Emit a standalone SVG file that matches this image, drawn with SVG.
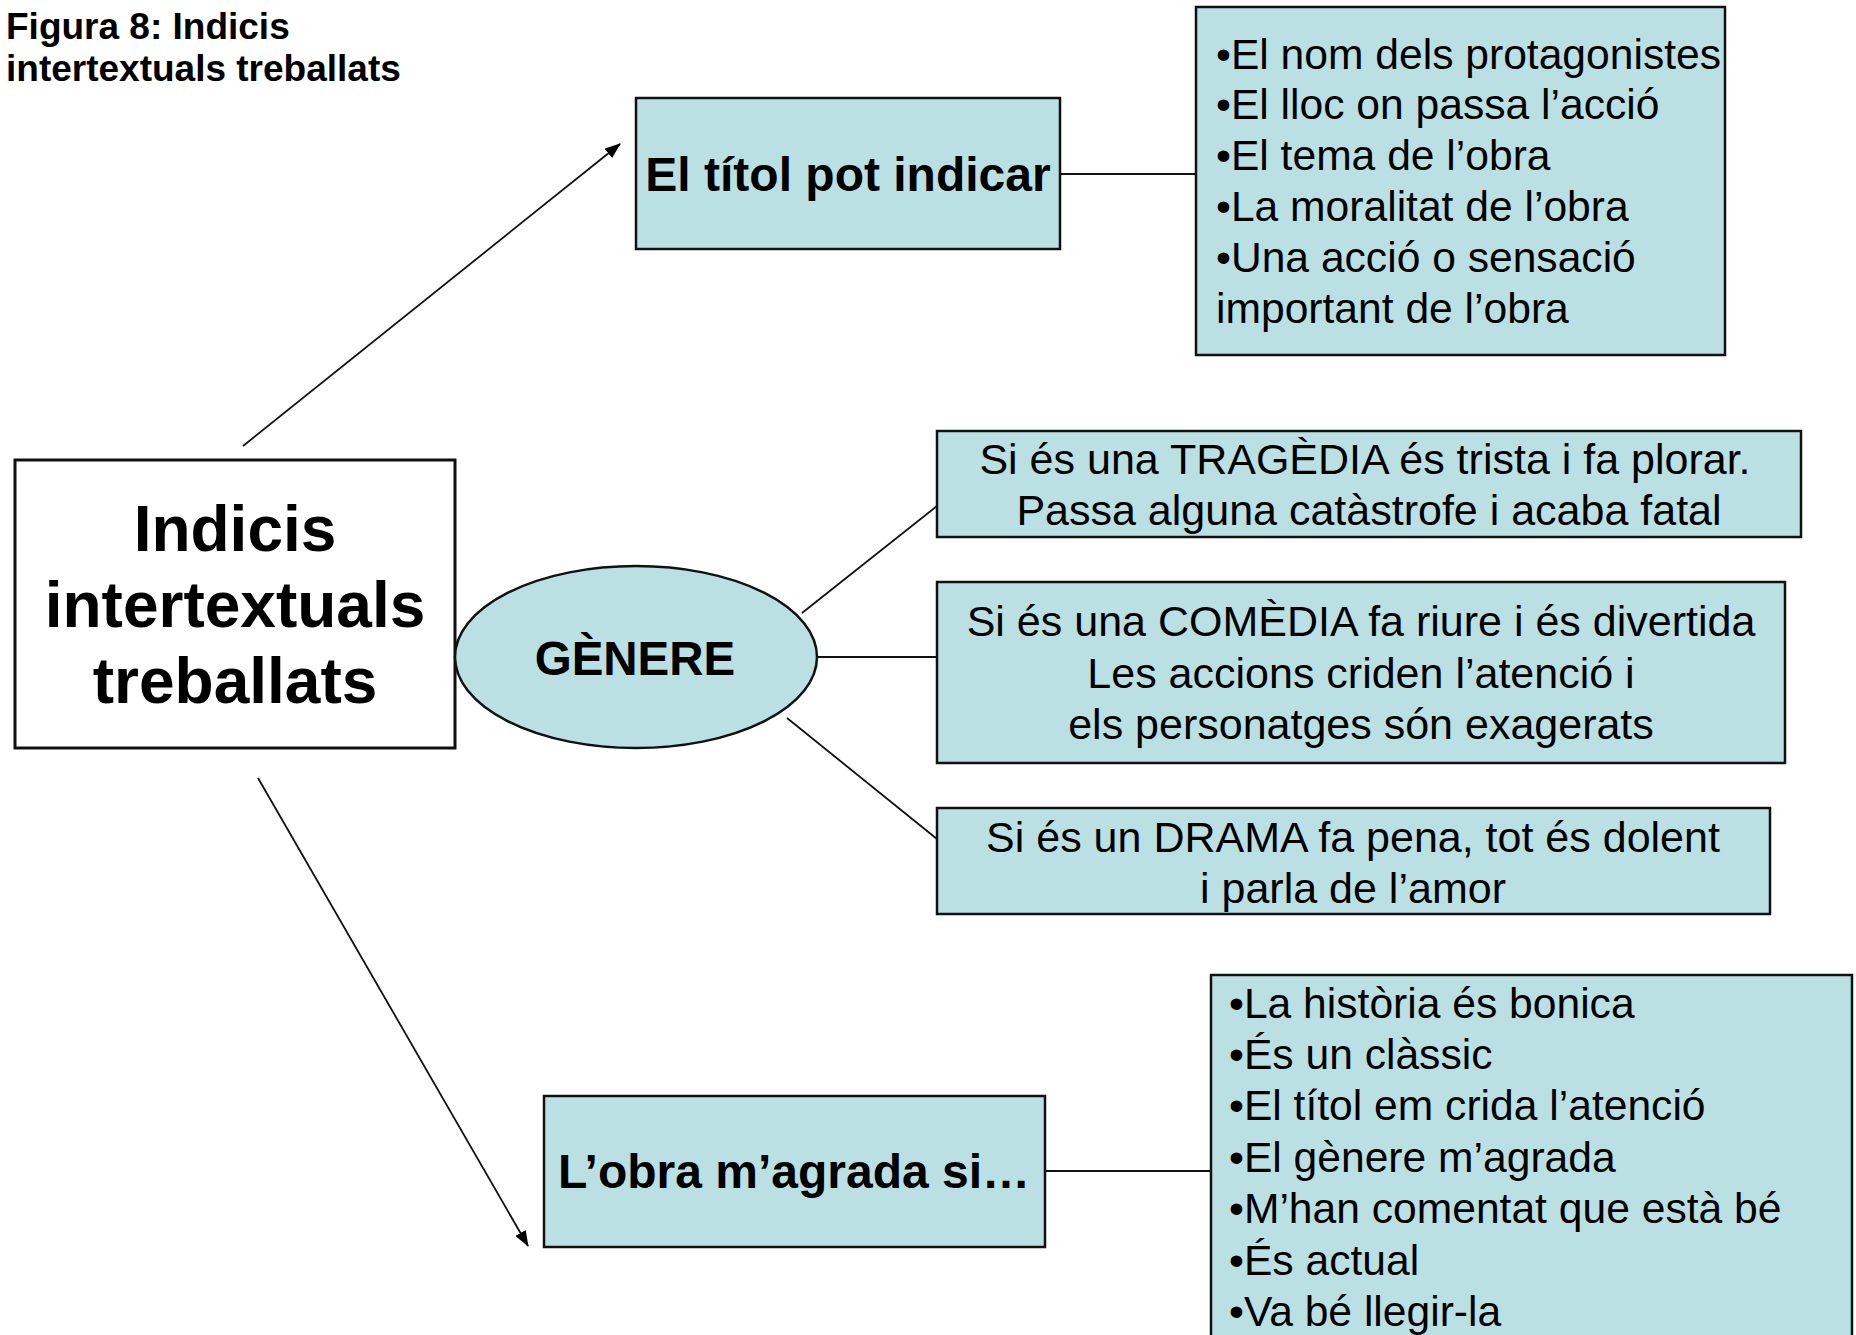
<svg xmlns="http://www.w3.org/2000/svg" width="1856" height="1335" viewBox="0 0 1856 1335">
<style>
text{font-family:"Liberation Sans",Arial,sans-serif;fill:#000}
.b{font-weight:bold}
.box{fill:#BBE0E3;stroke:#111;stroke-width:2.5}
.t42{font-size:43px}
.li{font-size:42.6px}
.mid{text-anchor:middle}
.con{stroke:#111;stroke-width:1.8;fill:none}
</style>
<defs>
<marker id="arr" markerUnits="userSpaceOnUse" markerWidth="16" markerHeight="12" refX="15" refY="6" orient="auto">
<path d="M0,0 L16,6 L0,12 z" fill="#000"/>
</marker>
</defs>
<rect width="1856" height="1335" fill="#fff"/>
<g id="title">
<text class="b" x="6" y="39" font-size="37">Figura 8: Indicis</text>
<text class="b" x="6" y="81" font-size="37">intertextuals treballats</text>
</g>
<g id="connectors">
<line class="con" x1="243" y1="446" x2="620" y2="144" marker-end="url(#arr)"/>
<line class="con" x1="258" y1="778" x2="528" y2="1246" marker-end="url(#arr)"/>
<line class="con" x1="1060" y1="174" x2="1196" y2="174"/>
<line class="con" x1="802" y1="613" x2="937" y2="506"/>
<line class="con" x1="817" y1="657" x2="937" y2="657"/>
<line class="con" x1="787" y1="718" x2="937" y2="839"/>
<line class="con" x1="1045" y1="1171" x2="1211" y2="1171"/>
</g>
<g id="main">
<rect x="15" y="460" width="440" height="288" fill="#fff" stroke="#111" stroke-width="3"/>
<text class="b mid" x="235" y="551" font-size="64">Indicis</text>
<text class="b mid" x="235" y="627" font-size="64">intertextuals</text>
<text class="b mid" x="235" y="703" font-size="64">treballats</text>
</g>
<g id="titol">
<rect class="box" x="636" y="98" width="424" height="151"/>
<text class="b mid" x="848" y="191" font-size="48">El títol pot indicar</text>
</g>
<g id="titol-list">
<rect class="box" x="1196" y="7" width="529" height="348"/>
<text class="li" x="1216" y="69">•El nom dels protagonistes</text>
<text class="li" x="1216" y="119">•El lloc on passa l’acció</text>
<text class="li" x="1216" y="170">•El tema de l’obra</text>
<text class="li" x="1216" y="221">•La moralitat de l’obra</text>
<text class="li" x="1216" y="272">•Una acció o sensació</text>
<text class="li" x="1216" y="323">important de l’obra</text>
</g>
<g id="genere">
<ellipse cx="636" cy="657" rx="181" ry="91" fill="#BBE0E3" stroke="#111" stroke-width="2.5"/>
<text class="b mid" x="635" y="675" font-size="47.5">GÈNERE</text>
</g>
<g id="tragedia">
<rect class="box" x="937" y="431" width="864" height="106"/>
<text class="t42 mid" x="1365" y="474">Si és una TRAGÈDIA és trista i fa plorar.</text>
<text class="t42 mid" x="1369" y="525">Passa alguna catàstrofe i acaba fatal</text>
</g>
<g id="comedia">
<rect class="box" x="937" y="582" width="848" height="181"/>
<text class="t42 mid" x="1361" y="636">Si és una COMÈDIA fa riure i és divertida</text>
<text class="t42 mid" x="1361" y="688">Les accions criden l’atenció i</text>
<text class="t42 mid" x="1361" y="739">els personatges són exagerats</text>
</g>
<g id="drama">
<rect class="box" x="937" y="808" width="833" height="106"/>
<text class="t42 mid" x="1353" y="852">Si és un DRAMA fa pena, tot és dolent</text>
<text class="t42 mid" x="1353" y="903">i parla de l’amor</text>
</g>
<g id="agrada">
<rect class="box" x="544" y="1096" width="501" height="151"/>
<text class="b mid" x="794" y="1188" font-size="48">L’obra m’agrada si…</text>
</g>
<g id="agrada-list">
<rect class="box" x="1211" y="975" width="641" height="380"/>
<text class="li" x="1229" y="1018">•La història és bonica</text>
<text class="li" x="1229" y="1069">•És un clàssic</text>
<text class="li" x="1229" y="1120">•El títol em crida l’atenció</text>
<text class="li" x="1229" y="1172">•El gènere m’agrada</text>
<text class="li" x="1229" y="1223">•M’han comentat que està bé</text>
<text class="li" x="1229" y="1275">•És actual</text>
<text class="li" x="1229" y="1326">•Va bé llegir-la</text>
</g>
</svg>
